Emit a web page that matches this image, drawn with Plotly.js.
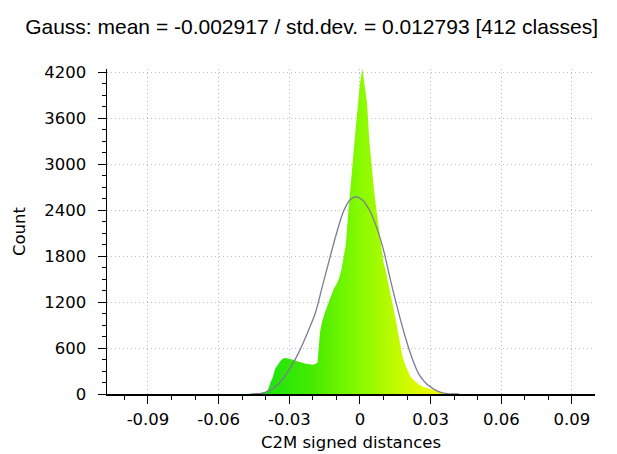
<!DOCTYPE html>
<html>
<head>
<meta charset="utf-8">
<script src="https://cdn.plot.ly/plotly-3.0.1.min.js"></script>
<style>html,body{margin:0;padding:0;background:#fff}#chart{width:617px;height:454px}</style>
</head>
<body>
<div id="chart"></div>
<script>
// Histogram bins (centers) and counts
var binCenters = [-0.048,-0.047,-0.046,-0.045,-0.044,-0.043,-0.042,-0.041,-0.040,-0.039,-0.038,-0.037,-0.036,-0.035,-0.034,-0.033,-0.032,-0.031,-0.030,-0.029,-0.028,-0.027,-0.026,-0.025,-0.024,-0.023,-0.022,-0.021,-0.020,-0.019,-0.018,-0.017,-0.016,-0.015,-0.014,-0.013,-0.012,-0.011,-0.010,-0.009,-0.008,-0.007,-0.006,-0.005,-0.004,-0.003,-0.002,-0.001,0.000,0.001,0.002,0.003,0.004,0.005,0.006,0.007,0.008,0.009,0.010,0.011,0.012,0.013,0.014,0.015,0.016,0.017,0.018,0.019,0.020,0.021,0.022,0.023,0.024,0.025,0.026,0.027,0.028,0.029,0.030,0.031,0.032,0.033,0.034,0.035,0.036,0.037];
var binCounts = [0,2,3,3,5,8,10,15,25,60,150,220,330,380,420,455,470,465,460,455,445,430,420,410,400,395,390,385,380,390,410,800,950,1050,1150,1220,1300,1380,1430,1500,1600,1760,1950,2350,2750,3050,3400,3750,4050,4250,4050,3800,3300,2950,2650,2400,2150,1950,1720,1600,1450,1300,1180,1000,830,650,500,400,320,250,210,175,150,125,105,90,80,70,60,50,42,35,25,15,8,0];
// Gauss curve points
var gaussX = [-0.046,-0.042,-0.038,-0.034,-0.030,-0.026,-0.022,-0.019,-0.016,-0.013,-0.010,-0.007,-0.004,-0.0015,0.001,0.004,0.007,0.010,0.013,0.016,0.019,0.022,0.025,0.028,0.031,0.034,0.037,0.042];
var gaussY = [0,8,52,150,320,540,820,1050,1400,1750,2090,2380,2540,2573,2530,2400,2180,1880,1480,1110,770,480,260,140,70,25,5,0];
var xTickVals = [-0.09,-0.06,-0.03,0,0.03,0.06,0.09];
var xTickText = ['-0.09','-0.06','-0.03','0','0.03','0.06','0.09'];
var yTickVals = [0,600,1200,1800,2400,3000,3600,4200];
var titleText = 'Gauss: mean = -0.002917 / std.dev. = 0.012793 [412 classes]';

var stops = [[-0.045,[10,225,20]],[-0.02,[70,235,0]],[0,[135,250,0]],[0.02,[210,250,0]],[0.035,[250,250,0]]];
var xmin = binCenters[0], xmax = binCenters[binCenters.length-1];
var fillScale = stops.map(function(s){
  var p = Math.min(1, Math.max(0, (s[0]-xmin)/(xmax-xmin)));
  return [p, 'rgb('+s[1].join(',')+')'];
});
fillScale[0][0] = 0; fillScale[fillScale.length-1][0] = 1;

var axisFont = {family:'DejaVu Sans, Verdana, sans-serif', size:16.5, color:'#000'};
var gridDash = '1px,3px';
var data = [
  {type:'scatter', mode:'lines', x:binCenters, y:binCounts, fill:'tozeroy', line:{width:0, color:'rgba(0,0,0,0)'},
   fillcolor:'rgb(130,245,0)', fillgradient:{type:'horizontal', colorscale:fillScale}},
  {type:'scatter', mode:'lines', x:gaussX, y:gaussY, line:{color:'#7c7c92', width:1.3, shape:'spline', smoothing:0.8}}
];
var layout = {
  width:617, height:454,
  margin:{l:107, r:22, t:69, b:60},
  paper_bgcolor:'#fff', plot_bgcolor:'#fff',
  showlegend:false,
  title:{text:titleText, font:{family:'Liberation Sans, Arial, sans-serif', size:21, color:'#000'}, x:0.505, xanchor:'center', y:0.942, yanchor:'middle'},
  xaxis:{range:[-0.1074,0.0998], tickvals:xTickVals, ticktext:xTickText, ticks:'outside', ticklen:8, tickwidth:1, tickcolor:'#000',
    showline:true, linecolor:'#000', linewidth:1.5, zeroline:false, showgrid:true, gridcolor:'#bdbdbd', griddash:gridDash, gridwidth:1,
    minor:{dtick:0.01, tick0:0, ticks:'outside', ticklen:4, tickcolor:'#000', showgrid:false},
    ticklabelstandoff:2,
    tickfont:axisFont, title:{text:'C2M signed distances', font:axisFont, standoff:8}},
  yaxis:{range:[0,4240], tickvals:yTickVals, ticks:'outside', ticklen:8, tickwidth:1, tickcolor:'#000',
    showline:true, linecolor:'#000', linewidth:1.5, zeroline:false, showgrid:true, gridcolor:'#bdbdbd', griddash:gridDash, gridwidth:1,
    minor:{dtick:150, tick0:0, ticks:'outside', ticklen:4, tickcolor:'#000', showgrid:false},
    ticklabelstandoff:8,
    tickfont:axisFont, title:{text:'Count', font:axisFont, standoff:14}}
};
Plotly.newPlot('chart', data, layout, {displayModeBar:false, staticPlot:true});
</script>
</body>
</html>
